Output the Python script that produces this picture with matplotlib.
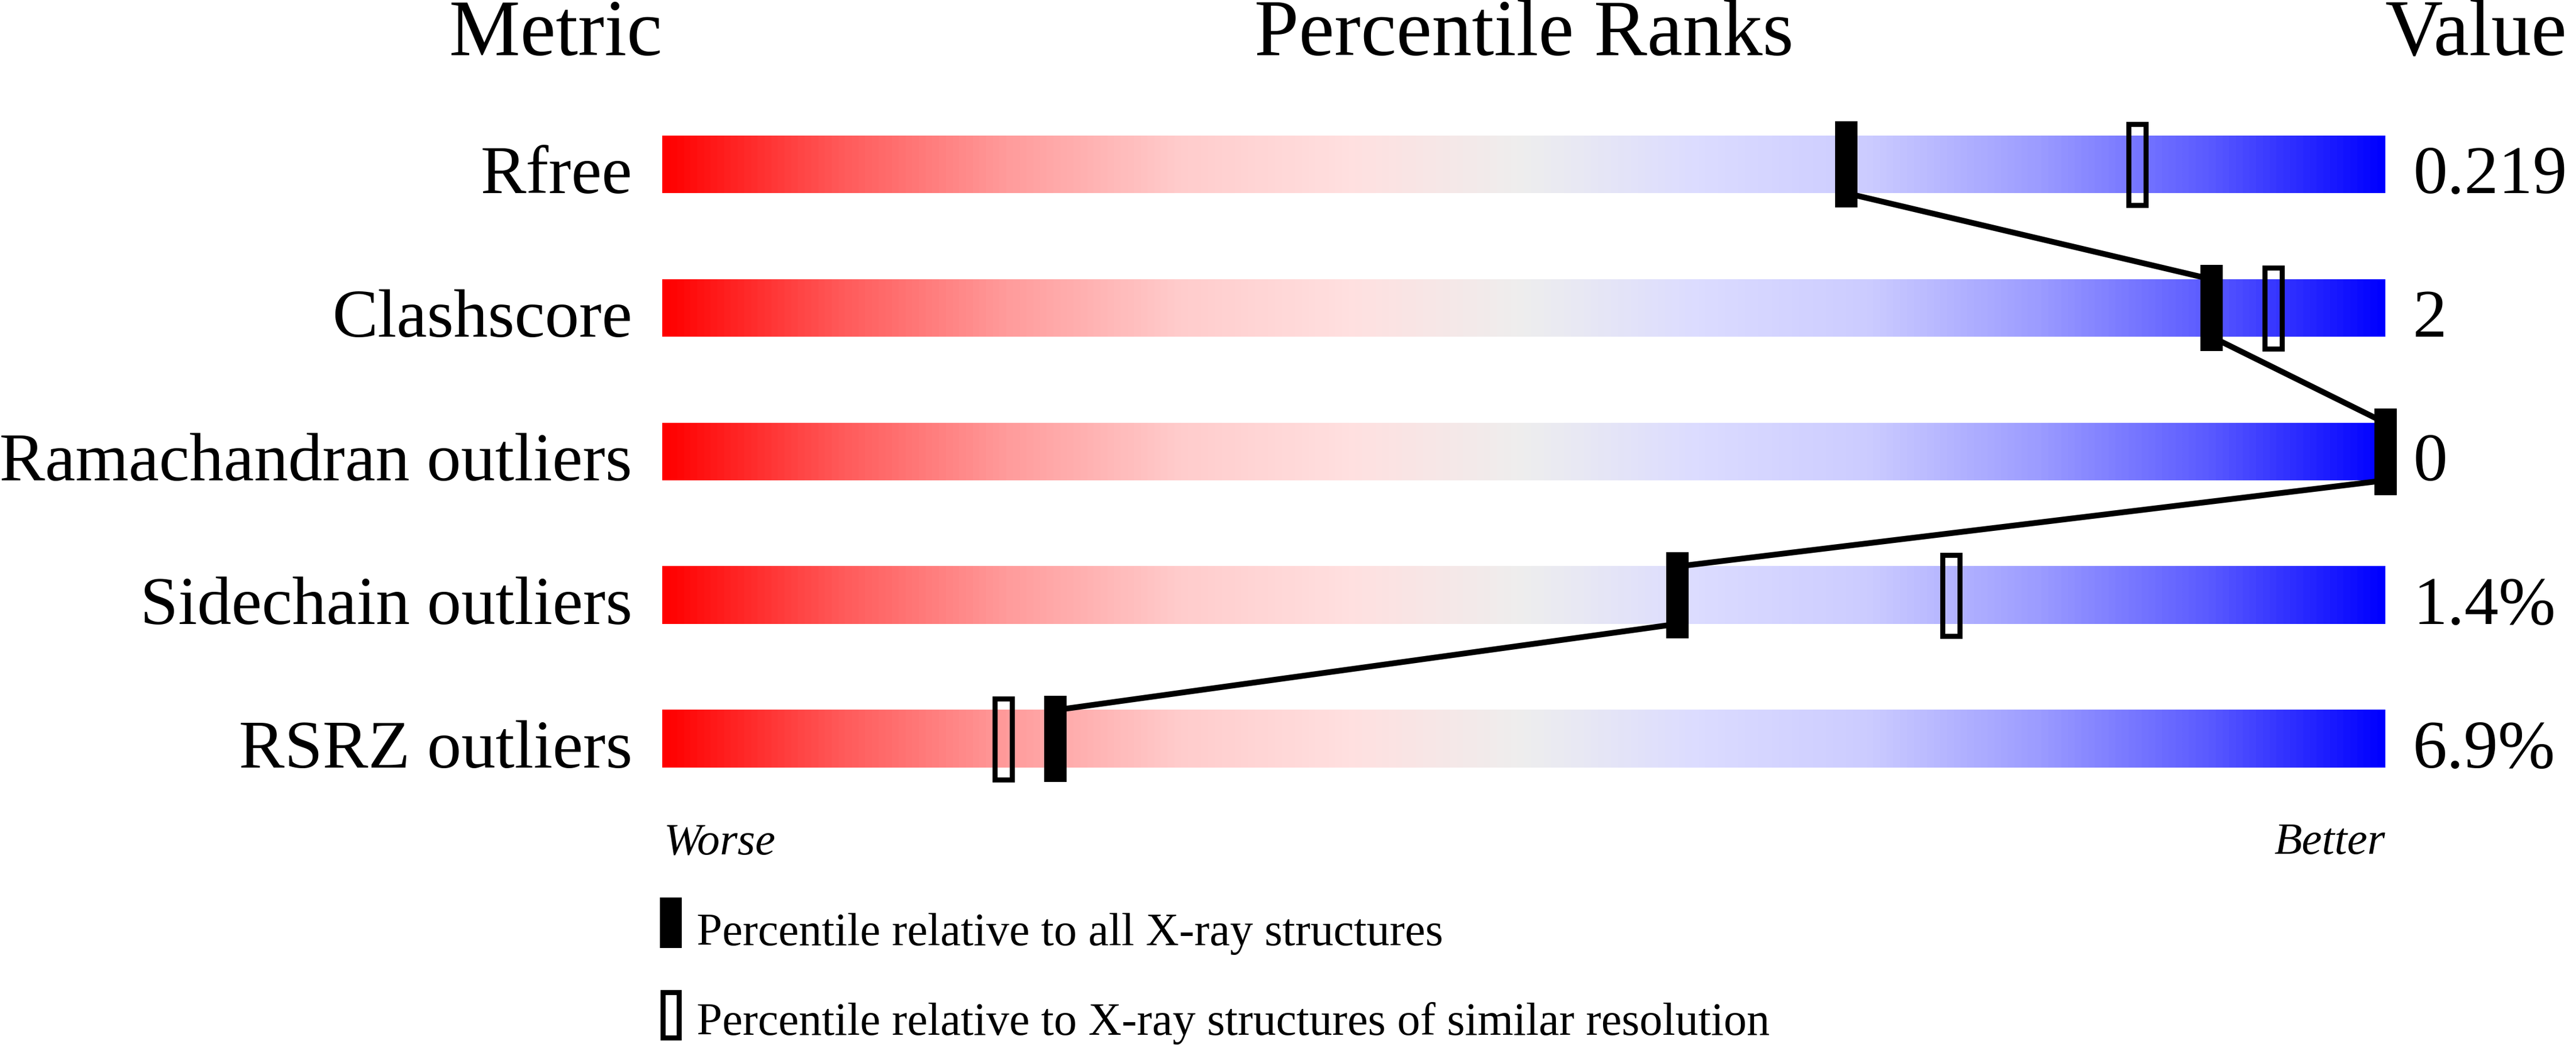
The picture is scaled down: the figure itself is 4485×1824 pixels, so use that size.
import numpy as np
import matplotlib
matplotlib.use("Agg")
from matplotlib import pyplot as plt
from matplotlib.colors import LinearSegmentedColormap
from matplotlib.patches import Rectangle

metrics = ["Rfree", "Clashscore", "Ramachandran outliers", "Sidechain outliers", "RSRZ outliers"]
values = ["0.219", "2", "0", "1.4%", "6.9%"]
pct_all = [68.7, 89.9, 100, 58.9, 22.8]
pct_similar = [85.6, 93.5, 100, 74.8, 19.8]
legend_labels = ["Percentile relative to all X-ray structures",
                 "Percentile relative to X-ray structures of similar resolution"]

grad_stops = [(0.00, "#FF0000"), (0.10, "#FF5858"), (0.20, "#FF9C9C"), (0.30, "#FFCCCC"),
              (0.40, "#FFE0E0"), (0.50, "#EEEEEE"), (0.60, "#DCDCFF"), (0.70, "#CCCCFF"),
              (0.80, "#9C9CFF"), (0.90, "#5A5AFF"), (1.00, "#0000FF")]
cmap = LinearSegmentedColormap.from_list("slider", grad_stops)

plt.rcParams['font.family'] = ['Liberation Serif', 'DejaVu Serif']

fig = plt.figure(figsize=(14.95, 6.08), dpi=300)
ax = fig.add_axes([0, 0, 1, 1])
ax.axis('off')

bar_h = 0.4
mark_w, mark_h = 1.3, 0.6
grad = np.linspace(0, 1, 600)[None, :]

for i, name in enumerate(metrics):
    ax.imshow(grad, cmap=cmap, extent=[0, 100, i + bar_h / 2, i - bar_h / 2],
              aspect='auto', interpolation='bilinear', zorder=1)
    ax.text(-1.75, i + bar_h / 2, name, ha='right', va='baseline', fontsize=28.6)
    ax.text(101.6, i + bar_h / 2, values[i], ha='left', va='baseline', fontsize=28.6)

# line joining the markers for all structures
line_x, line_y = [], []
for i, p in enumerate(pct_all):
    line_x += [p, p]
    line_y += [i - bar_h / 2, i + bar_h / 2]
ax.plot(line_x[1:-1], line_y[1:-1], color='black', lw=2.4, zorder=3, solid_capstyle='butt')

for i, p in enumerate(pct_similar):
    ax.add_patch(Rectangle((p - 0.5, i - 0.282), 1.0, 0.564, facecolor='none',
                           edgecolor='black', lw=2.1, zorder=4))
for i, p in enumerate(pct_all):
    ax.add_patch(Rectangle((p - mark_w / 2, i - mark_h / 2), mark_w, mark_h,
                           facecolor='black', edgecolor='none', zorder=5))

# headers
ax.text(0, -0.76, "Metric", ha='right', va='baseline', fontsize=33.4)
ax.text(50, -0.76, "Percentile Ranks", ha='center', va='baseline', fontsize=33.4)
ax.text(100, -0.76, "Value", ha='left', va='baseline', fontsize=33.4)

ax.text(0.1, 4.8, "Worse", ha='left', va='baseline', fontsize=19, style='italic')
ax.text(100, 4.8, "Better", ha='right', va='baseline', fontsize=19, style='italic')

# legend
ax.add_patch(Rectangle((0.5 - 0.63, 5.28 - 0.176), 1.26, 0.352, facecolor='black', edgecolor='none'))
ax.add_patch(Rectangle((0.5 - 0.48, 5.92 - 0.158), 0.96, 0.316, facecolor='none',
                       edgecolor='black', lw=2.1))
ax.text(2.0, 5.436, legend_labels[0], ha='left', va='baseline', fontsize=19.2)
ax.text(2.0, 6.06, legend_labels[1], ha='left', va='baseline', fontsize=19.2)

ax.set_xlim(-1153 / 30, (4485 - 1153) / 30)
ax.set_ylim((1824 - 286) / 250, -286 / 250)

fig.savefig("out.png", dpi=300)
